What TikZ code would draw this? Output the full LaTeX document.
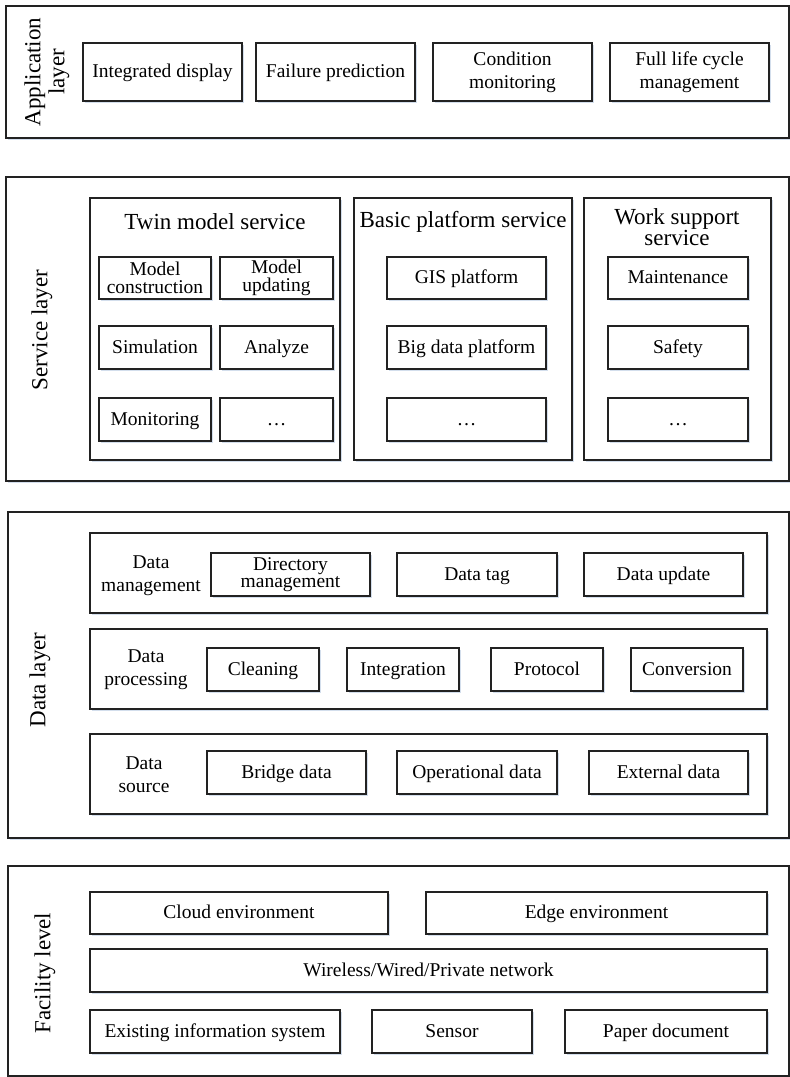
\documentclass[tikz,border=0pt]{standalone}
\usepackage{fontspec}
\setmainfont{Liberation Serif}
\newfontfamily\tnr{Liberation Serif}
\usetikzlibrary{shadows}
\definecolor{edgec}{HTML}{222222}
\definecolor{shadc}{HTML}{C9D6E8}
\tikzset{
  bx/.style={draw=edgec, line width=1.2pt, fill=white, inner sep=0pt, align=center,
    font=\tnr\fontsize{19.5}{23}\selectfont,
    drop shadow={shadow xshift=1.5pt, shadow yshift=-1.5pt, fill=shadc, opacity=0.8}},
  sl/.style={text height=14.5pt, text depth=3.5pt},
  ml/.style={},
  tight/.style={font=\tnr\fontsize{19.5}{17.5}\selectfont},
  layerlbl/.style={rotate=90, align=center, font=\tnr\fontsize{23}{24}\selectfont, inner sep=0pt},
  title/.style={align=center, font=\tnr\fontsize{23}{21}\selectfont, inner sep=0pt},
  sublbl/.style={align=center, font=\tnr\fontsize{19.5}{23}\selectfont, inner sep=0pt},
}
% #1 extra style, #2 name, #3 x1, #4 y1, #5 x2, #6 y2, #7 text
\newcommand\pbox[7][sl]{%
  \node[bx,#1,minimum width={(#5-#3)*1pt},minimum height={(#6-#4)*1pt}] (#2) at ({(#3+#5)/2},{-(#4+#6)/2}) {#7};}
\begin{document}
\begin{tikzpicture}[x=1pt,y=1pt]
\useasboundingbox (0,0) rectangle (790,-1077);
% ---------------- Application layer
\pbox[ml]{applayer}{6}{6}{789}{138}{}
\node[layerlbl] (applbl) at (47,-72) {Application\\layer};
\pbox{intdisp}{83}{43}{242}{101}{Integrated display}
\pbox{failpred}{256}{43}{415}{101}{Failure prediction}
\pbox[ml]{condmon}{433}{43}{592}{101}{Condition\\monitoring}
\pbox[ml]{fulllife}{610}{43}{769}{101}{Full life cycle\\management}
% ---------------- Service layer
\pbox[ml]{servlayer}{6}{177}{789}{481}{}
\node[layerlbl] (servlbl) at (42,-330) {Service layer};
\pbox[ml]{twin}{90}{198}{340}{460}{}
\node[title] (twint) at (215,-222) {Twin model service};
\pbox[ml]{basic}{354}{198}{572}{460}{}
\node[title] (basict) at (463,-222) {Basic platform service};
\pbox[ml]{work}{584}{198}{771}{460}{}
\node[title] (workt) at (677,-227) {Work support\\service};
\pbox[tight]{mcons}{99}{257}{211}{299}{Model\\construction}
\pbox[tight]{mupd}{220}{257}{333}{299}{Model\\updating}
\pbox{simu}{99}{326}{211}{369}{Simulation}
\pbox{anal}{220}{326}{333}{369}{Analyze}
\pbox{moni}{99}{398}{211}{441}{Monitoring}
\pbox{tdots}{220}{398}{333}{441}{…}
\pbox{gis}{387}{257}{546}{299}{GIS platform}
\pbox{bigd}{387}{326}{546}{369}{Big data platform}
\pbox{bdots}{387}{398}{546}{441}{…}
\pbox{maint}{608}{257}{748}{299}{Maintenance}
\pbox{safe}{608}{326}{748}{369}{Safety}
\pbox{wdots}{608}{398}{748}{441}{…}
% ---------------- Data layer
\pbox[ml]{datalayer}{8}{512}{789}{838}{}
\node[layerlbl] (datalbl) at (40,-680) {Data layer};
\pbox[ml]{row1}{90}{533}{767}{613}{}
\node[sublbl] (dmlbl) at (151,-576) {Data\\management};
\pbox[tight]{dirm}{211}{553}{370}{596}{Directory\\management}
\pbox{dtag}{397}{553}{557}{596}{Data tag}
\pbox{dupd}{584}{553}{743}{596}{Data update}
\pbox[ml]{row2}{90}{629}{767}{709}{}
\node[sublbl] (dplbl) at (146,-670) {Data\\processing};
\pbox{clean}{207}{648}{319}{691}{Cleaning}
\pbox{integ}{347}{648}{459}{691}{Integration}
\pbox{proto}{491}{648}{603}{691}{Protocol}
\pbox{conv}{631}{648}{743}{691}{Conversion}
\pbox[ml]{row3}{90}{734}{767}{814}{}
\node[sublbl] (dslbl) at (144,-775) {Data\\source};
\pbox{bridge}{207}{751}{366}{794}{Bridge data}
\pbox{oper}{397}{751}{557}{794}{Operational data}
\pbox{extd}{589}{751}{748}{794}{External data}
% ---------------- Facility level
\pbox[ml]{faclayer}{8}{866}{789}{1076}{}
\node[layerlbl] (faclbl) at (45,-973) {Facility level};
\pbox{cloud}{90}{892}{388}{934}{Cloud environment}
\pbox{edge}{426}{892}{767}{934}{Edge environment}
\pbox{wire}{90}{949}{767}{992}{Wireless/Wired/Private network}
\pbox{exist}{90}{1010}{340}{1053}{Existing information system}
\pbox{sensor}{372}{1010}{532}{1053}{Sensor}
\pbox{paper}{565}{1010}{767}{1053}{Paper document}
\end{tikzpicture}
\end{document}
